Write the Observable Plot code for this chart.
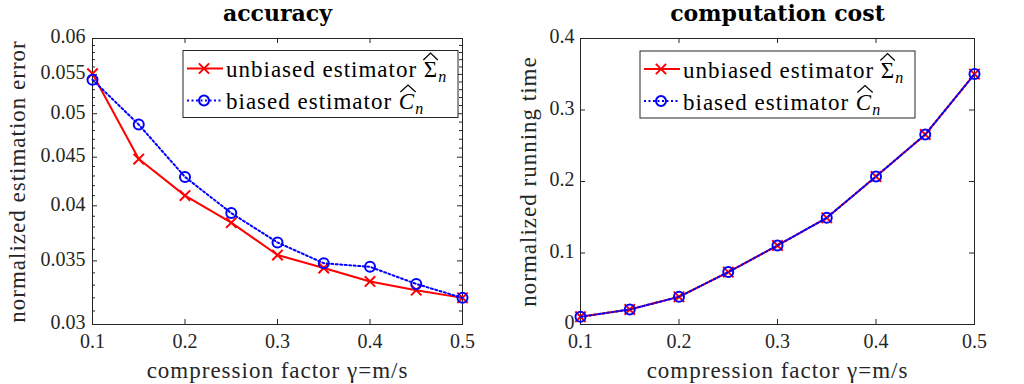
<!DOCTYPE html>
<html>
<head>
<meta charset="utf-8">
<script src="https://cdn.jsdelivr.net/npm/d3@7"></script>
<script src="https://cdn.jsdelivr.net/npm/@observablehq/plot@0.6"></script>
<style>
  body { margin: 0; background: #fff; }
  #wrap { display: flex; width: 1024px; height: 384px; }
  #wrap svg { display: block; }
  g[aria-label="text"][font-size="23"] text { letter-spacing: 1px; }
</style>
</head>
<body>
<div id="wrap"></div>
<script>
// ---------- data ----------
const gamma = [0.1, 0.15, 0.2, 0.25, 0.3, 0.35, 0.4, 0.45, 0.5];
const errUnbiased = [0.0551, 0.0448, 0.0410, 0.0384, 0.0355, 0.0344, 0.0333, 0.0326, 0.0320];
const errBiased   = [0.0543, 0.0487, 0.0429, 0.0393, 0.0366, 0.0348, 0.0345, 0.0331, 0.0320];
const timeUnbiased = [0.0108, 0.0210, 0.0387, 0.0733, 0.1105, 0.1492, 0.2070, 0.2657, 0.3502];
const timeBiased   = [0.0108, 0.0210, 0.0387, 0.0733, 0.1105, 0.1492, 0.2070, 0.2657, 0.3502];

const xTicks = [0.1, 0.2, 0.3, 0.4, 0.5];
const errTicks = [0.03, 0.035, 0.04, 0.045, 0.05, 0.055, 0.06];
const errMinorTicks = [0.031, 0.032, 0.033, 0.034, 0.036, 0.037, 0.038, 0.039,
  0.041, 0.042, 0.043, 0.044, 0.046, 0.047, 0.048, 0.049,
  0.051, 0.052, 0.053, 0.054, 0.056, 0.057, 0.058, 0.059];
const timeTicks = [0, 0.1, 0.2, 0.3, 0.4];

const panelTitles = ["accuracy", "computation cost"];
const yLabels = ["normalized estimation error", "normalized running time"];
const xLabel = "compression factor \u03B3=m/s";
const seriesLabels = ["unbiased estimator", "biased estimator"];
const seriesSymbols = ["\u03A3", "C"];

// ---------- layout ----------
const W = 512, H = 384, MT = 38, MB = 60;
const AX = "#262626";
const RED = "#ff0000", BLUE = "#0000ff";
const SERIF = "'Liberation Serif', 'Times New Roman', serif";

function panel(cfg) {
  const fw = W - cfg.ml - cfg.mr, fh = H - MT - MB;
  const rowsU = gamma.map((g, i) => ({g, v: cfg.u[i]}));
  const rowsB = gamma.map((g, i) => ({g, v: cfg.b[i]}));
  const marks = [
    Plot.frame({stroke: AX, strokeWidth: 1}),
    Plot.tickX(xTicks, {x: d => d, insetTop: fh - 5, stroke: AX}),
    Plot.tickX(xTicks, {x: d => d, insetBottom: fh - 5, stroke: AX}),
    Plot.tickY(cfg.yTicks, {y: d => d, insetRight: fw - 5, stroke: AX}),
    Plot.tickY(cfg.yTicks, {y: d => d, insetLeft: fw - 5, stroke: AX})
  ];
  if (cfg.yMinor) {
    marks.push(
      Plot.tickY(cfg.yMinor, {y: d => d, insetRight: fw - 3, stroke: AX}),
      Plot.tickY(cfg.yMinor, {y: d => d, insetLeft: fw - 3, stroke: AX})
    );
  }
  marks.push(
    Plot.axisX({ticks: xTicks, tickSize: 0, tickPadding: 9, tickFormat: d => String(d), label: null, fontSize: 20}),
    Plot.axisY({ticks: cfg.yTicks, tickSize: 0, tickPadding: cfg.yPad, dy: -1.5, tickFormat: d => String(d), label: null, fontSize: 20}),
    Plot.lineY(rowsU, {x: "g", y: "v", stroke: RED, strokeWidth: 2}),
    Plot.dot(rowsU, {x: "g", y: "v", symbol: "times", r: 4.8, stroke: RED, strokeWidth: 2, fill: "none"}),
    Plot.lineY(rowsB, {x: "g", y: "v", stroke: BLUE, strokeWidth: 2, strokeDasharray: "2,2.5"}),
    Plot.dot(rowsB, {x: "g", y: "v", symbol: "circle", r: 5, stroke: BLUE, strokeWidth: 2, fill: "none"}),
    Plot.text([cfg.title], {frameAnchor: "top", lineAnchor: "middle", textAnchor: "middle", dy: -25,
      fontWeight: "bold", fontSize: 22, fontFamily: "DejaVu Serif", fill: "#000"}),
    Plot.text([xLabel], {frameAnchor: "bottom", lineAnchor: "middle", textAnchor: "middle", dy: 46, fontSize: 23, fill: AX}),
    Plot.text([cfg.yLabel], {frameAnchor: "left", lineAnchor: "middle", textAnchor: "middle", dx: cfg.ylx, rotate: -90, fontSize: 23, fill: AX})
  );
  return Plot.plot({
    width: W, height: H,
    marginLeft: cfg.ml, marginRight: cfg.mr, marginTop: MT, marginBottom: MB,
    style: {fontFamily: SERIF, fontSize: "20px", color: AX, background: "white", overflow: "visible"},
    x: {domain: [0.1, 0.5]},
    y: {type: cfg.yType, domain: cfg.yDomain},
    marks
  });
}

function addLegend(svg, left, top) {
  const g = d3.select(svg).append("g").attr("transform", `translate(${left},${top})`);
  g.append("rect").attr("x", 0).attr("y", 0).attr("width", 275).attr("height", 67)
    .attr("fill", "white").attr("stroke", AX).attr("stroke-width", 1);
  const styles = [
    {color: RED, dash: null, symbol: "times", italic: false},
    {color: BLUE, dash: "2,2.5", symbol: "circle", italic: true}
  ];
  seriesLabels.forEach((lab, i) => {
    const st = styles[i];
    const cy = 18 + i * 32;
    g.append("line").attr("x1", 4).attr("x2", 40).attr("y1", cy).attr("y2", cy)
      .attr("stroke", st.color).attr("stroke-width", 2)
      .attr("stroke-dasharray", st.dash);
    g.append("path")
      .attr("transform", `translate(21,${cy})`)
      .attr("d", d3.symbol(st.symbol === "times" ? d3.symbolTimes : d3.symbolCircle, st.symbol === "times" ? 70 : 78.5)())
      .attr("fill", "none").attr("stroke", st.color).attr("stroke-width", 2);
    const baseY = cy + 8.5;
    const t = g.append("text").attr("x", 43).attr("y", baseY)
      .attr("text-anchor", "start")
      .attr("font-family", SERIF).attr("font-size", 23).attr("fill", "#000")
      .style("letter-spacing", "1px");
    const pre = lab + " ";
    t.append("tspan").text(pre);
    t.append("tspan").attr("font-style", st.italic ? "italic" : "normal").text(seriesSymbols[i]);
    t.append("tspan").attr("font-style", "italic").attr("font-size", 16).attr("dy", 5).text("n");
    const ext = t.node().getExtentOfChar(pre.length);
    const capTop = baseY - 15.5;
    const x0 = ext.x - 0.5 + (st.italic ? 2 : 0), x1 = ext.x + ext.width - 0.5 + (st.italic ? 1 : 0);
    g.append("path")
      .attr("d", `M${x0},${capTop - 1.5}L${(x0 + x1) / 2},${capTop - 8.5}L${x1},${capTop - 1.5}`)
      .attr("fill", "none").attr("stroke", "#000").attr("stroke-width", 1.2);
  });
}

const wrap = document.getElementById("wrap");
const left = panel({
  ml: 92, mr: 50, yType: "log", yDomain: [0.03, 0.06], yTicks: errTicks, yMinor: errMinorTicks, yPad: 7,
  u: errUnbiased, b: errBiased, title: panelTitles[0], yLabel: yLabels[0], ylx: -74.5
});
const right = panel({
  ml: 68, mr: 50, yType: "linear", yDomain: [0, 0.4], yTicks: timeTicks, yMinor: null, yPad: 6,
  u: timeUnbiased, b: timeBiased, title: panelTitles[1], yLabel: yLabels[1], ylx: -52
});
wrap.appendChild(left);
wrap.appendChild(right);
addLegend(left, 183, 50.5);
addLegend(right, 128, 51);
</script>
</body>
</html>
